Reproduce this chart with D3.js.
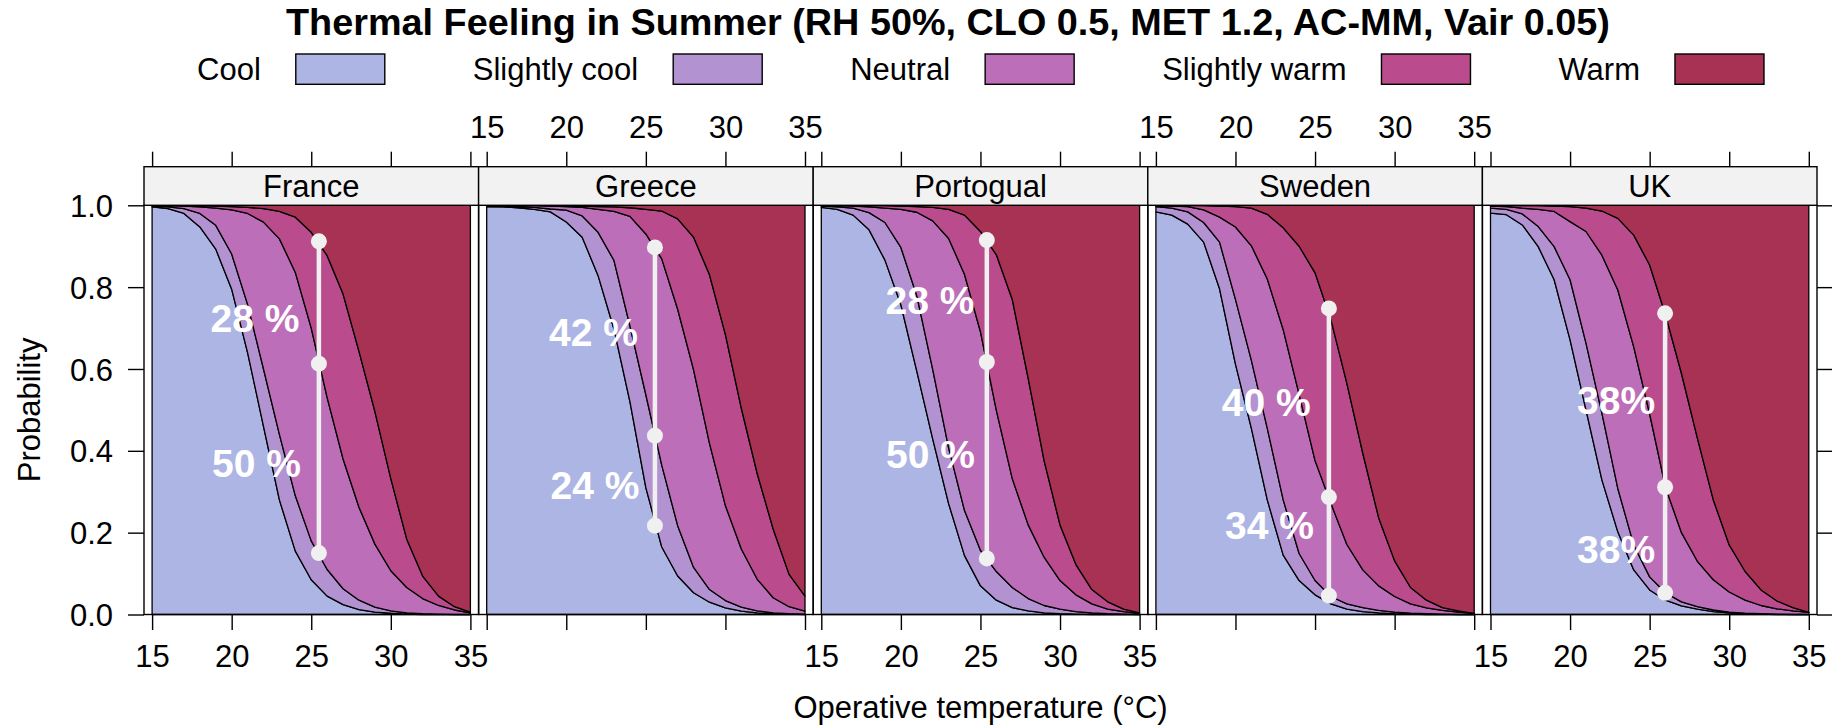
<!DOCTYPE html>
<html>
<head>
<meta charset="utf-8">
<script src="https://cdn.jsdelivr.net/npm/d3@7"></script>
<style>
  body { margin: 0; background: #fff; }
  text { font-family: "Liberation Sans", Arial, Helvetica, sans-serif; }
</style>
</head>
<body>
<div id="chart"></div>
<script>
// ---- data ----
var temps = [15, 16, 17, 18, 19, 20, 21, 22, 23, 24, 25, 26, 27, 28, 29, 30, 31, 32, 33, 34, 35];
var countries = ["France", "Greece", "Portogual", "Sweden", "UK"];
var feelings = ["Cool", "Slightly cool", "Neutral", "Slightly warm", "Warm"];

// cumulative probability: <= Cool, <= Slightly cool, <= Neutral, <= Slightly warm
var franceCurves = [
  [0.996, 0.992, 0.980, 0.947, 0.893, 0.795, 0.640, 0.460, 0.280, 0.155, 0.085, 0.045, 0.024, 0.012, 0.006, 0.003, 0.001, 0, 0, 0, 0],
  [0.998, 0.996, 0.992, 0.980, 0.951, 0.881, 0.758, 0.600, 0.440, 0.290, 0.180, 0.110, 0.063, 0.035, 0.018, 0.009, 0.004, 0.002, 0.001, 0, 0],
  [0.999, 0.999, 0.998, 0.996, 0.993, 0.989, 0.980, 0.959, 0.918, 0.836, 0.700, 0.530, 0.380, 0.262, 0.172, 0.107, 0.066, 0.039, 0.022, 0.011, 0.004],
  [1, 1, 0.999, 0.999, 0.998, 0.997, 0.995, 0.992, 0.985, 0.971, 0.934, 0.877, 0.783, 0.643, 0.496, 0.332, 0.184, 0.094, 0.045, 0.019, 0.006]
];
var greeceCurves = [
  [0.997, 0.996, 0.994, 0.990, 0.984, 0.959, 0.922, 0.828, 0.697, 0.520, 0.310, 0.165, 0.094, 0.053, 0.030, 0.016, 0.008, 0.004, 0.002, 0.001, 0],
  [0.999, 0.998, 0.997, 0.995, 0.991, 0.988, 0.974, 0.934, 0.865, 0.705, 0.537, 0.365, 0.217, 0.115, 0.061, 0.034, 0.018, 0.009, 0.004, 0.002, 0.001],
  [1, 1, 0.999, 0.999, 0.998, 0.997, 0.995, 0.990, 0.985, 0.973, 0.930, 0.869, 0.746, 0.598, 0.418, 0.266, 0.160, 0.086, 0.041, 0.019, 0.008],
  [1, 1, 1, 1, 0.999, 0.999, 0.998, 0.997, 0.996, 0.994, 0.990, 0.986, 0.967, 0.922, 0.830, 0.684, 0.504, 0.344, 0.209, 0.098, 0.045]
];
var portogualCurves = [
  [0.995, 0.990, 0.976, 0.940, 0.866, 0.757, 0.595, 0.429, 0.271, 0.144, 0.070, 0.035, 0.017, 0.009, 0.004, 0.002, 0.001, 0, 0, 0, 0],
  [0.998, 0.996, 0.993, 0.982, 0.958, 0.897, 0.779, 0.599, 0.407, 0.254, 0.157, 0.105, 0.066, 0.039, 0.022, 0.013, 0.007, 0.004, 0.002, 0.001, 0],
  [1, 0.999, 0.998, 0.996, 0.993, 0.990, 0.983, 0.962, 0.919, 0.831, 0.691, 0.499, 0.332, 0.219, 0.140, 0.083, 0.048, 0.026, 0.013, 0.007, 0.003],
  [1, 1, 1, 0.999, 0.999, 0.998, 0.997, 0.995, 0.990, 0.976, 0.936, 0.879, 0.770, 0.577, 0.376, 0.219, 0.122, 0.061, 0.031, 0.013, 0.004]
];
var swedenCurves = [
  [0.984, 0.976, 0.954, 0.910, 0.796, 0.612, 0.455, 0.280, 0.145, 0.083, 0.048, 0.026, 0.013, 0.007, 0.004, 0.002, 0.001, 0, 0, 0, 0],
  [0.997, 0.993, 0.984, 0.958, 0.910, 0.770, 0.621, 0.455, 0.280, 0.149, 0.083, 0.044, 0.026, 0.017, 0.010, 0.006, 0.003, 0.002, 0.001, 0, 0],
  [0.999, 0.998, 0.997, 0.989, 0.971, 0.947, 0.901, 0.820, 0.696, 0.538, 0.376, 0.271, 0.171, 0.109, 0.070, 0.044, 0.026, 0.016, 0.010, 0.006, 0.003],
  [1, 1, 1, 0.999, 0.998, 0.997, 0.993, 0.978, 0.945, 0.900, 0.835, 0.720, 0.565, 0.394, 0.236, 0.131, 0.066, 0.035, 0.017, 0.009, 0.003]
];
var ukCurves = [
  [0.981, 0.977, 0.952, 0.899, 0.818, 0.671, 0.500, 0.329, 0.202, 0.109, 0.060, 0.035, 0.021, 0.013, 0.007, 0.004, 0.002, 0.001, 0, 0, 0],
  [0.993, 0.990, 0.979, 0.948, 0.899, 0.818, 0.663, 0.492, 0.308, 0.170, 0.092, 0.053, 0.031, 0.019, 0.011, 0.006, 0.003, 0.002, 0.001, 0, 0],
  [0.998, 0.997, 0.993, 0.990, 0.985, 0.960, 0.936, 0.878, 0.793, 0.654, 0.490, 0.310, 0.200, 0.130, 0.085, 0.055, 0.035, 0.022, 0.014, 0.009, 0.005],
  [1, 1, 0.999, 0.999, 0.998, 0.997, 0.993, 0.986, 0.968, 0.927, 0.854, 0.732, 0.589, 0.431, 0.280, 0.170, 0.105, 0.060, 0.033, 0.017, 0.005]
];
var curvesByCountry = [franceCurves, greeceCurves, portogualCurves, swedenCurves, ukCurves];

// white markers: temperature and the three probabilities marked on it
var markerTemp = [25.48, 25.57, 25.4, 25.87, 25.97];
var markerProb = [
  [0.150, 0.613, 0.912],
  [0.217, 0.437, 0.897],
  [0.137, 0.617, 0.915],
  [0.046, 0.287, 0.748],
  [0.053, 0.311, 0.736]
];
// annotation texts, upper then lower, with their anchor (temperature, probability)
var labelText = [["28 %", "50 %"], ["42 %", "24 %"], ["28 %", "50 %"], ["40 %", "34 %"], ["38%", "38%"]];
var labelTemp = [[21.46, 21.56], [21.71, 21.8], [21.83, 21.86], [21.93, 22.14], [22.89, 22.89]];
var labelProb = [[0.691, 0.337], [0.656, 0.282], [0.734, 0.358], [0.485, 0.184], [0.491, 0.125]];

var xTicks = [15, 20, 25, 30, 35];
var yTicks = [0, 0.2, 0.4, 0.6, 0.8, 1.0];

var feelingColors = ["#adb5e4", "#b392d2", "#bd6eb8", "#ba4b8c", "#a83253"];

// ---- layout ----
var svgWidth = 1832;
var svgHeight = 728;
var panelLeft = 144;
var panelWidth = 334.6;
var panelTop = 205.3;
var panelBottom = 614.5;
var stripTop = 166.7;
var tickLen = 15;
var fontSize = 31;

var svg = d3.select("#chart")
  .append("svg")
  .attr("width", svgWidth)
  .attr("height", svgHeight);

var yScale = d3.scaleLinear().domain([0, 1]).range([panelBottom, panelTop]);
var xScale = d3.scaleLinear().domain([15, 35]).range([8.1, 326.4]);

// title
svg.append("text")
  .attr("x", 948)
  .attr("y", 35)
  .attr("text-anchor", "middle")
  .attr("font-weight", "bold")
  .attr("font-size", 37.8)
  .text("Thermal Feeling in Summer (RH 50%, CLO 0.5, MET 1.2, AC-MM, Vair 0.05)");

// legend: text then box, laid out from measured text widths and centred on the panels
var legend = svg.append("g");
var legendTexts = legend.selectAll("text")
  .data(feelings)
  .enter()
  .append("text")
  .attr("font-size", fontSize)
  .attr("y", 80)
  .attr("text-anchor", "end")
  .text(d => d);
var widths = [];
legendTexts.each(function() { widths.push(this.getComputedTextLength()); });
var boxW = 89, gapTB = 35, gapBT = 88;
var total = d3.sum(widths) + feelings.length * (gapTB + boxW) + (feelings.length - 1) * gapBT;
var cursor = panelLeft + panelWidth * 5 / 2 - total / 2;
feelings.forEach(function(f, i) {
  var textEnd = cursor + widths[i];
  d3.select(legendTexts.nodes()[i]).attr("x", textEnd);
  legend.append("rect")
    .attr("x", textEnd + gapTB)
    .attr("y", 54)
    .attr("width", boxW)
    .attr("height", 30.3)
    .attr("fill", feelingColors[i])
    .attr("stroke", "#000")
    .attr("stroke-width", 1.4);
  cursor = textEnd + gapTB + boxW + gapBT;
});

// left axis
var leftAxis = d3.axisLeft(yScale)
  .tickValues(yTicks)
  .tickFormat(d3.format(".1f"))
  .tickSize(16)
  .tickPadding(15);
var yAxis = svg.append("g")
  .attr("transform", `translate(${panelLeft}, 0)`)
  .call(leftAxis);

// right axis (ticks only)
var rightAxis = d3.axisRight(yScale)
  .tickValues(yTicks)
  .tickFormat("")
  .tickSize(15);
svg.append("g")
  .attr("transform", `translate(${panelLeft + panelWidth * 5}, 0)`)
  .call(rightAxis);

// panels
countries.forEach(function(country, p) {
  var g = svg.append("g")
    .attr("transform", `translate(${panelLeft + p * panelWidth}, 0)`);
  var curves = curvesByCountry[p];

  // stacked bands
  feelings.forEach(function(f, k) {
    var area = d3.area()
      .x((d, i) => xScale(temps[i]))
      .y0((d, i) => yScale(k === 0 ? 0 : curves[k - 1][i]))
      .y1((d, i) => yScale(k === 4 ? 1 : curves[k][i]));
    g.append("path")
      .datum(temps)
      .attr("d", area)
      .attr("fill", feelingColors[k])
      .attr("stroke", "#000")
      .attr("stroke-width", 1.3)
      .attr("stroke-linejoin", "round");
  });

  // panel border
  g.append("rect")
    .attr("x", 0)
    .attr("y", panelTop)
    .attr("width", panelWidth)
    .attr("height", panelBottom - panelTop)
    .attr("fill", "none")
    .attr("stroke", "#000")
    .attr("stroke-width", 1.4);

  // strip
  g.append("rect")
    .attr("x", 0)
    .attr("y", stripTop)
    .attr("width", panelWidth)
    .attr("height", panelTop - stripTop)
    .attr("fill", "#f2f2f2")
    .attr("stroke", "#000")
    .attr("stroke-width", 1.4);
  g.append("text")
    .attr("x", panelWidth / 2)
    .attr("y", 197)
    .attr("text-anchor", "middle")
    .attr("font-size", fontSize)
    .text(country);

  // bottom axis, labels on alternate panels
  var bottomAxis = d3.axisBottom(xScale)
    .tickValues(xTicks)
    .tickSize(15.5)
    .tickPadding(15)
    .tickFormat(p % 2 === 0 ? d3.format("d") : "");
  g.append("g")
    .attr("transform", `translate(0, ${panelBottom})`)
    .call(bottomAxis);

  // top axis, labels on the other panels
  var topAxis = d3.axisTop(xScale)
    .tickValues(xTicks)
    .tickSize(tickLen)
    .tickPadding(14)
    .tickFormat(p % 2 === 1 ? d3.format("d") : "");
  g.append("g")
    .attr("transform", `translate(0, ${stripTop})`)
    .call(topAxis);

  // marker line and dots
  var mx = xScale(markerTemp[p]);
  g.append("line")
    .attr("x1", mx)
    .attr("x2", mx)
    .attr("y1", yScale(markerProb[p][0]))
    .attr("y2", yScale(markerProb[p][2]))
    .attr("stroke", "#f0f0f0")
    .attr("stroke-width", 4.5);
  g.selectAll("circle")
    .data(markerProb[p])
    .enter()
    .append("circle")
    .attr("cx", mx)
    .attr("cy", d => yScale(d))
    .attr("r", 8)
    .attr("fill", "#f0f0f0");

  // percentage labels
  labelText[p].forEach(function(t, j) {
    g.append("text")
      .attr("x", xScale(labelTemp[p][j]))
      .attr("y", yScale(labelProb[p][j]))
      .attr("text-anchor", "middle")
      .attr("font-weight", "bold")
      .attr("font-size", 39)
      .attr("fill", "#fff")
      .text(t);
  });
});

// axis styling
svg.selectAll(".domain").remove();
svg.selectAll(".tick line").attr("stroke", "#000").attr("stroke-width", 1.4);
svg.selectAll(".tick text")
  .attr("font-size", fontSize)
  .attr("fill", "#000")
  .style("font-family", "'Liberation Sans', Arial, Helvetica, sans-serif");
yAxis.selectAll(".tick text").attr("dy", "0.36em");

// axis titles
svg.append("text")
  .attr("x", panelLeft + panelWidth * 5 / 2)
  .attr("y", 718)
  .attr("text-anchor", "middle")
  .attr("font-size", fontSize)
  .text("Operative temperature (°C)");

svg.append("text")
  .attr("transform", `translate(40, ${(panelTop + panelBottom) / 2}) rotate(-90)`)
  .attr("text-anchor", "middle")
  .attr("font-size", fontSize)
  .text("Probability");
</script>
</body>
</html>
